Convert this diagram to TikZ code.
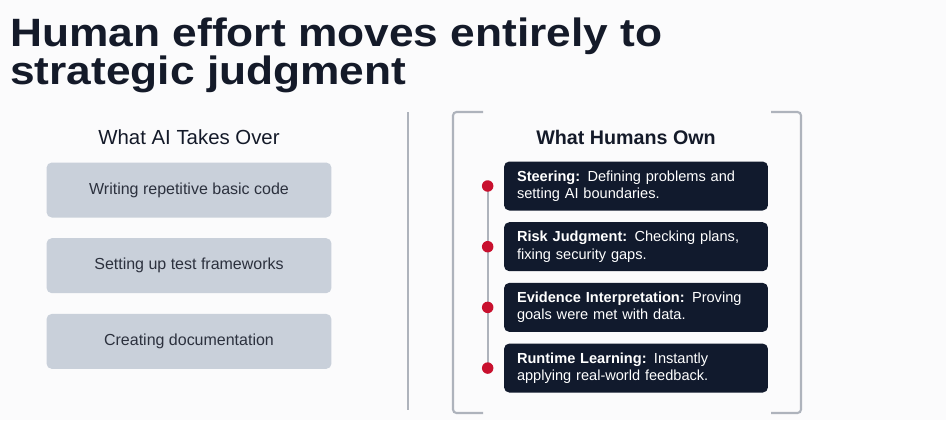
\documentclass[tikz,border=0pt]{standalone}
\usepackage{fontspec}
\setmainfont{Liberation Sans}
\newfontfamily\titlefont[FakeStretch=1.12]{Liberation Sans}
\usetikzlibrary{positioning}

\definecolor{ink}{HTML}{141A29}
\definecolor{navy}{HTML}{111A2D}
\definecolor{slab}{HTML}{C9D0DA}
\definecolor{rulegray}{HTML}{AEB3BC}
\definecolor{crim}{HTML}{C8102E}
\definecolor{paper}{HTML}{FBFBFC}

\begin{document}
\begin{tikzpicture}[
  x=0.02cm, y=-0.02cm,
  aibox/.style={rectangle, rounded corners=3pt, fill=slab,
                minimum width=5.7cm, minimum height=1.1cm,
                text=ink!90, font=\fontsize{9.1}{11}\selectfont},
  hubox/.style={rectangle, rounded corners=3pt, fill=navy,
                minimum width=5.28cm, minimum height=0.98cm,
                inner xsep=0.26cm, text width=4.76cm, align=left,
                text=white, font=\fontsize{8.3}{9.8}\selectfont},
  dot/.style={circle, fill=crim, inner sep=0pt, minimum size=0.23cm},
  head/.style={text=ink, font=\fontsize{11.6}{13}\selectfont}
]
\useasboundingbox[fill=paper] (0,0) rectangle (946,420);

% title
\node[anchor=north west, align=left, inner sep=0pt, text=ink,
      font=\fontsize{22.5}{19.6}\selectfont\titlefont\bfseries] (title) at (10,17)
  {Human effort moves entirely to\\strategic judgment};

% left column
\node[head] (aihead) at (189,137) {What AI Takes Over};
\node[aibox] (g1) at (189,190) {Writing repetitive basic code};
\node[aibox, below=0.4cm of g1] (g2) {Setting up test frameworks};
\node[aibox, below=0.4cm of g2] (g3) {Creating documentation};

% divider
\draw[rulegray, line width=0.8pt] (408,112) -- (408,410);

% right column frame
\draw[rulegray, line width=1.2pt, rounded corners=2pt]
  (483,112) -- (453,112) -- (453,413) -- (483,413);
\draw[rulegray, line width=1.2pt, rounded corners=2pt]
  (771,112) -- (801,112) -- (801,413) -- (771,413);

\node[head, font=\fontsize{11.2}{13}\selectfont\bfseries] (huhead) at (626,137) {What Humans Own};
\node[hubox] (h1) at (636,186)
  {\textbf{Steering:} Defining problems and\\setting AI boundaries.};
\node[hubox, below=0.22cm of h1] (h2)
  {\textbf{Risk Judgment:} Checking plans,\\fixing security gaps.};
\node[hubox, below=0.22cm of h2] (h3)
  {\textbf{Evidence Interpretation:} Proving\\goals were met with data.};
\node[hubox, below=0.22cm of h3] (h4)
  {\textbf{Runtime Learning:} Instantly\\applying real-world feedback.};

% timeline
\coordinate[left=0.32cm of h1.west] (c1);
\coordinate[left=0.32cm of h2.west] (c2);
\coordinate[left=0.32cm of h3.west] (c3);
\coordinate[left=0.32cm of h4.west] (c4);
\draw[rulegray, line width=1pt] (c1) -- (c4);
\node[dot] (d1) at (c1) {};
\node[dot] (d2) at (c2) {};
\node[dot] (d3) at (c3) {};
\node[dot] (d4) at (c4) {};
\end{tikzpicture}
\end{document}
